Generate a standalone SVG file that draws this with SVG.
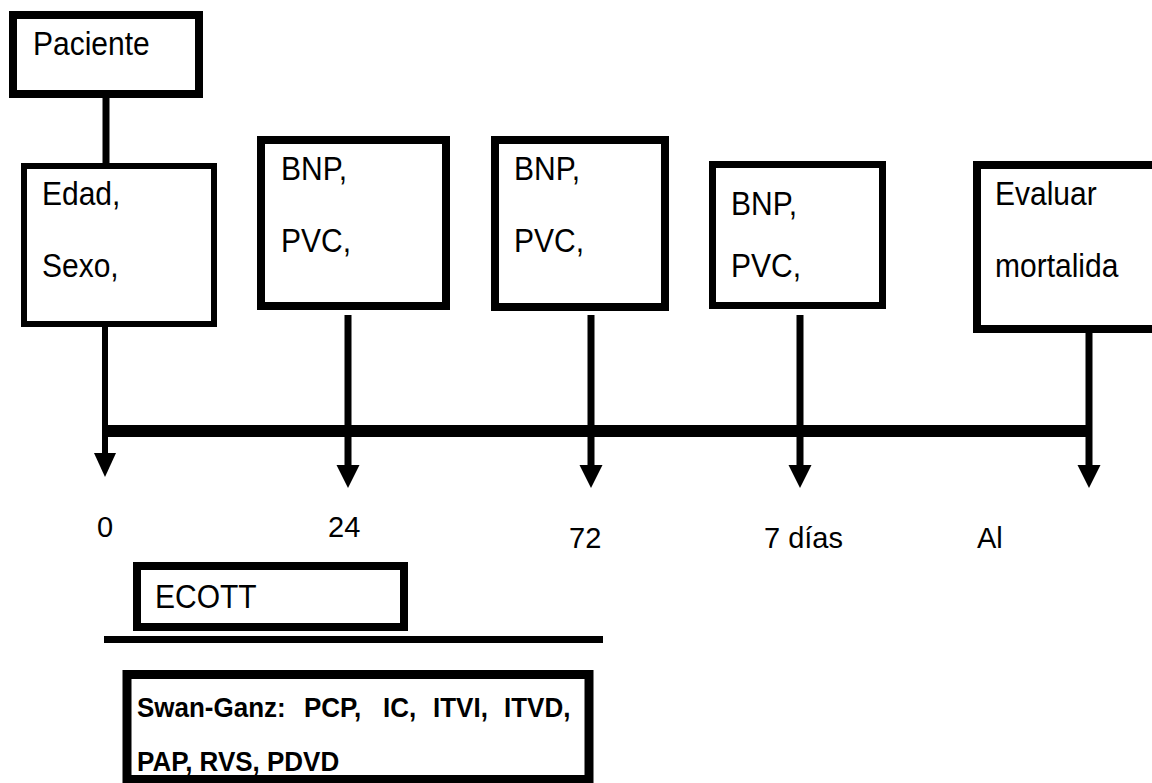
<svg xmlns="http://www.w3.org/2000/svg" width="1152" height="783" viewBox="0 0 1152 783">
<style>
.box{fill:#fff;stroke:#000}
.t{font-family:"Liberation Sans",Arial,sans-serif;font-size:30px;fill:#000}
.lbl{font-family:"Liberation Sans",Arial,sans-serif;font-size:29px;fill:#000}
.b{font-family:"Liberation Sans",Arial,sans-serif;font-size:26px;font-weight:bold;fill:#000}
.ln{stroke:#000;fill:none}
.ah{fill:#000}
</style>
<rect width="1152" height="783" fill="#fff"/>
<g id="connectors">
<line class="ln" x1="106" y1="96" x2="106" y2="166" stroke-width="7"/>
<line class="ln" x1="105" y1="325" x2="105" y2="456" stroke-width="6"/>
<polygon class="ah" points="94,453 116,453 105,477"/>
<line class="ln" x1="102" y1="431" x2="1092" y2="431" stroke-width="12"/>
<line class="ln" x1="348" y1="315" x2="348" y2="468" stroke-width="7"/>
<polygon class="ah" points="336.5,465 359.5,465 348,488"/>
<line class="ln" x1="591" y1="315" x2="591" y2="468" stroke-width="7"/>
<polygon class="ah" points="579.5,465 602.5,465 591,488"/>
<line class="ln" x1="800" y1="315" x2="800" y2="468" stroke-width="7"/>
<polygon class="ah" points="788.5,465 811.5,465 800,488"/>
<line class="ln" x1="1089" y1="331" x2="1089" y2="468" stroke-width="7"/>
<polygon class="ah" points="1077.5,465 1100.5,465 1089,488"/>
<line class="ln" x1="104" y1="639.5" x2="603" y2="639.5" stroke-width="7"/>
</g>
<g id="paciente">
<rect class="box" x="13" y="15" width="186" height="79" stroke-width="8"/>
<text class="t" transform="translate(33,55) scale(1,1.08)">Paciente</text>
</g>
<g id="edad">
<rect class="box" x="24" y="166" width="190" height="158" stroke-width="6"/>
<text class="t" transform="translate(42,205) scale(1,1.08)">Edad,</text>
<text class="t" transform="translate(42,277) scale(1,1.08)">Sexo,</text>
</g>
<g id="bnp24">
<rect class="box" x="261" y="140" width="185" height="166" stroke-width="8"/>
<text class="t" transform="translate(281,180) scale(1,1.08)">BNP,</text>
<text class="t" transform="translate(281,252) scale(1,1.08)">PVC,</text>
</g>
<g id="bnp72">
<rect class="box" x="495" y="140" width="170" height="167" stroke-width="8"/>
<text class="t" transform="translate(514,180) scale(1,1.08)">BNP,</text>
<text class="t" transform="translate(514,252) scale(1,1.08)">PVC,</text>
</g>
<g id="bnp7d">
<rect class="box" x="712.5" y="164.5" width="170" height="141" stroke-width="7"/>
<text class="t" transform="translate(731,215) scale(1,1.08)">BNP,</text>
<text class="t" transform="translate(731,277) scale(1,1.08)">PVC,</text>
</g>
<g id="evaluar">
<rect class="box" x="977" y="165" width="200" height="164" stroke-width="8"/>
<text class="t" transform="translate(995,205) scale(1,1.08)">Evaluar</text>
<text class="t" transform="translate(995,277) scale(1,1.08)">mortalida</text>
</g>
<g id="labels">
<text class="lbl" x="97" y="537">0</text>
<text class="lbl" x="328" y="537">24</text>
<text class="lbl" x="569" y="548">72</text>
<text class="lbl" x="764" y="548">7 días</text>
<text class="lbl" x="977" y="548">Al</text>
</g>
<g id="ecott">
<rect class="box" x="137" y="566" width="267" height="61" stroke-width="8"/>
<text class="t" transform="translate(155,608) scale(1,1.08)">ECOTT</text>
</g>
<g id="swanganz">
<rect class="box" x="127" y="674.5" width="462" height="105" stroke-width="9"/>
<text class="b" transform="translate(0,717) scale(1,1.08)"><tspan x="137">Swan-Ganz:</tspan><tspan x="304">PCP,</tspan><tspan x="383">IC,</tspan><tspan x="433">ITVI,</tspan><tspan x="504">ITVD,</tspan></text>
<text class="b" transform="translate(137,771) scale(1,1.08)">PAP, RVS, PDVD</text>
</g>
</svg>
